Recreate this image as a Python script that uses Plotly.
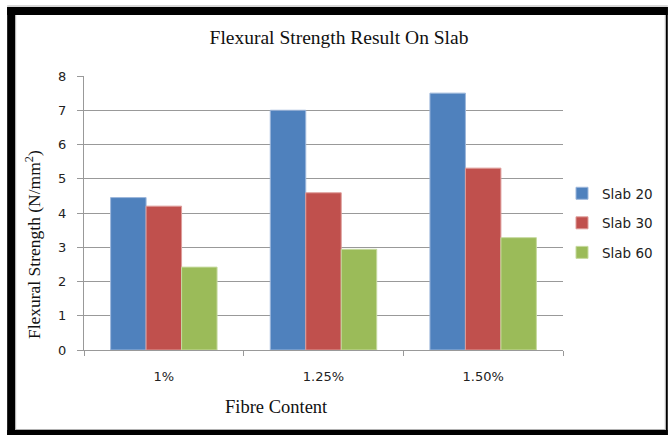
import plotly.graph_objects as go

# Data
categories = ["1%", "1.25%", "1.50%"]
slab20 = [4.45, 7.0, 7.5]
slab30 = [4.2, 4.59, 5.31]
slab60 = [2.42, 2.94, 3.28]
series_names = ["Slab 20", "Slab 30", "Slab 60"]
y_ticks = [0, 1, 2, 3, 4, 5, 6, 7, 8]

colors = ["#4F81BD", "#C0504D", "#9BBB59"]
edges = ["#9DB7DB", "#DE9C9A", "#C6DA9F"]

W, H = 669, 435
ML, MR, MT, MB = 84, 105, 76, 85
PW = W - ML - MR
PH = H - MT - MB


def px(x):
    return (x - ML) / PW


def py(y):
    return (H - MB - y) / PH


fig = go.Figure()
for name, vals, c, e in zip(series_names, [slab20, slab30, slab60], colors, edges):
    fig.add_trace(go.Bar(
        x=categories, y=vals, name=name, legendgroup=name,
        marker=dict(color=c, line=dict(color=e, width=1)),
    ))

grid = "#999999"
tick_font = dict(family="DejaVu Sans", size=13, color="#222")
fig.update_layout(
    width=W, height=H,
    margin=dict(l=ML, r=MR, t=MT, b=MB),
    paper_bgcolor="white", plot_bgcolor="white",
    barmode="group", bargap=1.5 / 4.5, bargroupgap=0,
    title=dict(
        text="Flexural Strength Result On Slab",
        font=dict(family="Liberation Serif", size=19.5, color="#111"),
        x=339 / W, xref="container", xanchor="center",
        y=1 - 37 / H, yref="container", yanchor="middle",
    ),
    xaxis=dict(
        showline=True, linecolor=grid, linewidth=1,
        ticks="outside", ticklen=5, tickcolor=grid, tickson="boundaries",
        tickfont=tick_font,
        ticklabelstandoff=14,
        showgrid=False,
    ),
    yaxis=dict(
        range=[0, 8], tickvals=y_ticks,
        showline=True, linecolor=grid, linewidth=1,
        ticks="outside", ticklen=6, tickcolor=grid,
        showgrid=True, gridcolor=grid, gridwidth=1,
        zeroline=False,
        tickfont=tick_font,
        ticklabelstandoff=8,
    ),
    legend=dict(
        x=px(562), xanchor="left", y=py(178), yanchor="top",
        font=dict(family="DejaVu Sans", size=13.5, color="#222"),
        tracegroupgap=9, bgcolor="rgba(0,0,0,0)",
    ),
    showlegend=True,
)

# Axis titles
fig.add_annotation(
    text="Fibre Content", x=px(277), y=py(407), xref="paper", yref="paper",
    xanchor="center", yanchor="middle",
    showarrow=False, font=dict(family="Liberation Serif", size=18.5, color="#111"),
)
fig.add_annotation(
    text="Flexural Strength (N/mm<sup>2</sup>)", x=px(33), y=py(245),
    xref="paper", yref="paper", textangle=-90,
    xanchor="center", yanchor="middle",
    showarrow=False, font=dict(family="Liberation Serif", size=17.5, color="#111"),
)

# Black picture frame around the chart
frame = [
    (7, 7, 669, 15),
    (7, 7, 15, 435),
    (7, 430, 669, 435),
    (667, 7, 669, 435),
]
for x0, y0, x1, y1 in frame:
    fig.add_shape(type="rect", xref="paper", yref="paper",
                  x0=px(x0), x1=px(x1), y0=py(y0), y1=py(y1),
                  fillcolor="black", line=dict(width=0), layer="above")
for x0, y0, x1, y1 in [(7, 6, 669, 6), (15.5, 15, 15.5, 430), (15, 429.5, 667, 429.5),
                       (666.5, 15, 666.5, 430)]:
    fig.add_shape(type="line", xref="paper", yref="paper",
                  x0=px(x0), x1=px(x1), y0=py(y0), y1=py(y1),
                  line=dict(color="#b0b0b0", width=1), layer="above")

fig.write_html("out.html")
